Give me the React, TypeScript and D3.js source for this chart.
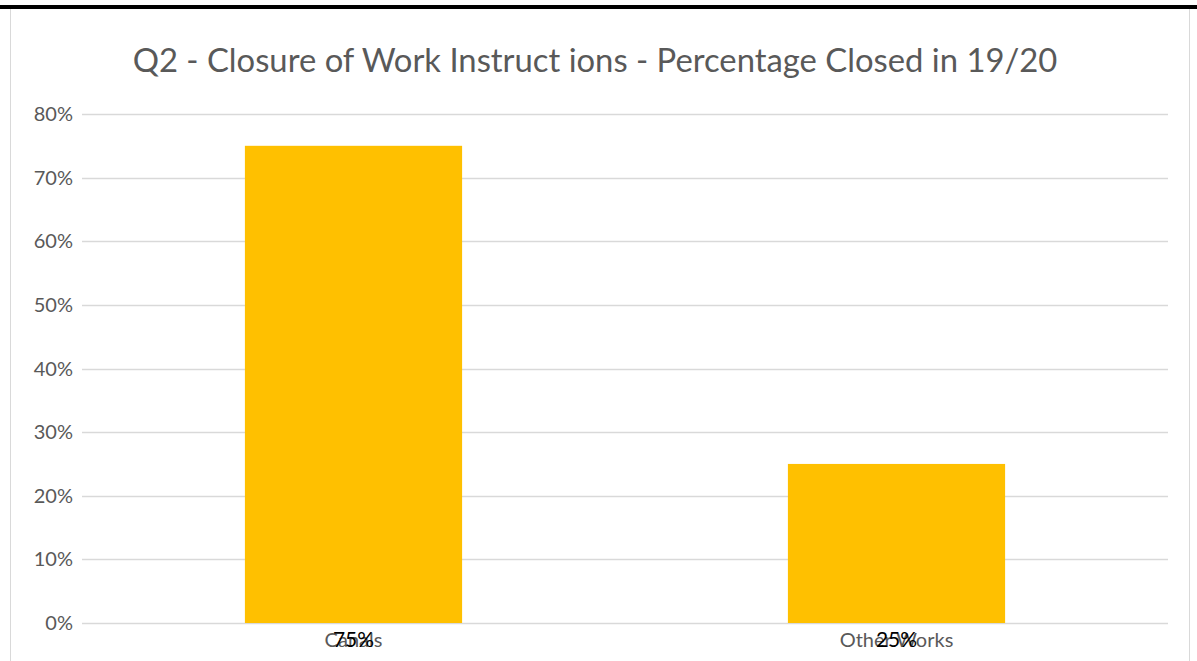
import { useEffect, useRef } from 'react';
import * as d3 from 'd3';

const TITLE = 'Q2 - Closure of Work Instruct ions - Percentage Closed in 19/20';
const categories = ['Canals', 'Other Works'];
const closedPct = [0.75, 0.25];
const yTicks = [0, 0.1, 0.2, 0.3, 0.4, 0.5, 0.6, 0.7, 0.8];

const W = 1197;
const H = 661;
const FONT = 'Lato, "Open Sans", sans-serif';

export default function App() {
  const svgRef = useRef<SVGSVGElement>(null);

  useEffect(() => {
    const svg = d3.select(svgRef.current);
    svg.selectAll('*').remove();

    // frame
    svg.append('rect').attr('width', W).attr('height', H).attr('fill', '#fff');
    svg.append('line').attr('x1', 0).attr('x2', W).attr('y1', 7).attr('y2', 7)
      .attr('stroke', '#000').attr('stroke-width', 4);
    svg.append('line').attr('x1', 10.5).attr('x2', 10.5).attr('y1', 9).attr('y2', H)
      .attr('stroke', '#d9d9d9');
    svg.append('line').attr('x1', 1189.5).attr('x2', 1189.5).attr('y1', 9).attr('y2', H)
      .attr('stroke', '#d9d9d9');

    const x = d3.scaleBand().domain(categories).range([82, 1168]).paddingInner(0.6).paddingOuter(0.3);
    const y = d3.scaleLinear().domain([0, 0.8]).range([623, 114]);

    // gridlines
    svg.append('g').selectAll('line').data(yTicks).join('line')
      .attr('x1', 82).attr('x2', 1168)
      .attr('y1', d => Math.round(y(d)) + 0.5).attr('y2', d => Math.round(y(d)) + 0.5)
      .attr('stroke', '#d9d9d9').attr('stroke-width', 1.5);

    // y labels
    svg.append('g').selectAll('text').data(yTicks).join('text')
      .attr('x', 73).attr('y', d => y(d)).attr('dy', '0.35em')
      .attr('text-anchor', 'end').attr('font-family', FONT).attr('font-size', 20)
      .attr('fill', '#595959')
      .text(d => d3.format('.0%')(d));

    // bars
    svg.append('g').selectAll('rect').data(categories).join('rect')
      .attr('x', d => x(d)!).attr('width', x.bandwidth())
      .attr('y', (d, i) => y(closedPct[i])).attr('height', (d, i) => y(0) - y(closedPct[i]))
      .attr('fill', '#ffc000');

    // category labels
    svg.append('g').selectAll('text').data(categories).join('text')
      .attr('x', d => x(d)! + x.bandwidth() / 2).attr('y', 647)
      .attr('text-anchor', 'middle').attr('font-family', FONT).attr('font-size', 20)
      .attr('fill', '#595959')
      .text(d => d);

    // data labels
    svg.append('g').selectAll('text').data(categories).join('text')
      .attr('x', d => x(d)! + x.bandwidth() / 2).attr('y', 647)
      .attr('text-anchor', 'middle').attr('font-family', FONT).attr('font-size', 21)
      .attr('fill', '#000')
      .text((d, i) => d3.format('.0%')(closedPct[i]));

    // title
    svg.append('text').attr('x', 595).attr('y', 72)
      .attr('text-anchor', 'middle').attr('font-family', FONT).attr('font-size', 32.8)
      .attr('fill', '#595959')
      .text(TITLE);
  }, []);

  return (
    <div style={{ position: 'absolute', left: 0, top: 0 }}>
      <svg ref={svgRef} width={W} height={H} style={{ display: 'block' }} />
    </div>
  );
}
